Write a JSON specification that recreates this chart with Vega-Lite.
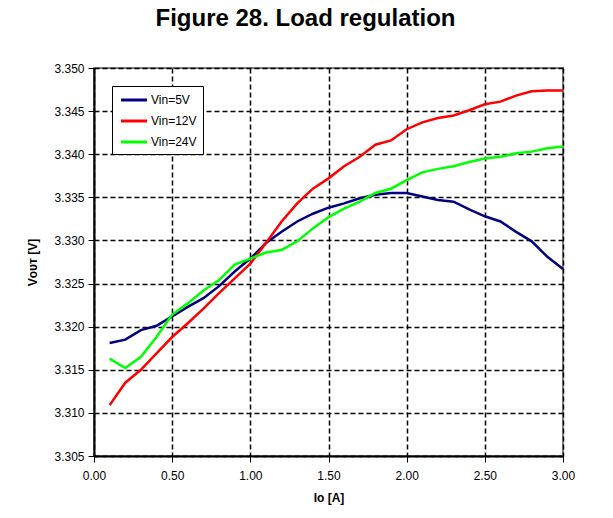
{
  "$schema": "https://vega.github.io/schema/vega-lite/v6.json",
  "width": 469,
  "height": 388,
  "autosize": {"type": "none"},
  "padding": {"left": 94, "top": 68, "right": 50, "bottom": 62},
  "background": "white",
  "title": {"text": "Figure 28. Load regulation", "fontSize": 24, "font": "Liberation Sans", "fontWeight": "bold", "color": "black", "anchor": "middle", "dx": -23, "offset": 31},
  "data": {"values": [
    {"Io":0.1,"Vout":3.3181,"Series":"Vin=5V"},{"Io":0.2,"Vout":3.3185,"Series":"Vin=5V"},{"Io":0.3,"Vout":3.3196,"Series":"Vin=5V"},{"Io":0.4,"Vout":3.3201,"Series":"Vin=5V"},{"Io":0.5,"Vout":3.3212,"Series":"Vin=5V"},{"Io":0.6,"Vout":3.3223,"Series":"Vin=5V"},{"Io":0.7,"Vout":3.3233,"Series":"Vin=5V"},{"Io":0.8,"Vout":3.3247,"Series":"Vin=5V"},{"Io":0.9,"Vout":3.3264,"Series":"Vin=5V"},{"Io":1.0,"Vout":3.3279,"Series":"Vin=5V"},{"Io":1.1,"Vout":3.3297,"Series":"Vin=5V"},{"Io":1.2,"Vout":3.3310,"Series":"Vin=5V"},{"Io":1.3,"Vout":3.3322,"Series":"Vin=5V"},{"Io":1.4,"Vout":3.3331,"Series":"Vin=5V"},{"Io":1.5,"Vout":3.3338,"Series":"Vin=5V"},{"Io":1.6,"Vout":3.3343,"Series":"Vin=5V"},{"Io":1.7,"Vout":3.3349,"Series":"Vin=5V"},{"Io":1.8,"Vout":3.3353,"Series":"Vin=5V"},{"Io":1.9,"Vout":3.3355,"Series":"Vin=5V"},{"Io":2.0,"Vout":3.3355,"Series":"Vin=5V"},{"Io":2.1,"Vout":3.3351,"Series":"Vin=5V"},{"Io":2.2,"Vout":3.3347,"Series":"Vin=5V"},{"Io":2.3,"Vout":3.3345,"Series":"Vin=5V"},{"Io":2.4,"Vout":3.3336,"Series":"Vin=5V"},{"Io":2.5,"Vout":3.3328,"Series":"Vin=5V"},{"Io":2.6,"Vout":3.3322,"Series":"Vin=5V"},{"Io":2.7,"Vout":3.3310,"Series":"Vin=5V"},{"Io":2.8,"Vout":3.3299,"Series":"Vin=5V"},{"Io":2.9,"Vout":3.3281,"Series":"Vin=5V"},{"Io":3.0,"Vout":3.3267,"Series":"Vin=5V"},
    {"Io":0.1,"Vout":3.3109,"Series":"Vin=12V"},{"Io":0.2,"Vout":3.3135,"Series":"Vin=12V"},{"Io":0.3,"Vout":3.3150,"Series":"Vin=12V"},{"Io":0.4,"Vout":3.3169,"Series":"Vin=12V"},{"Io":0.5,"Vout":3.3188,"Series":"Vin=12V"},{"Io":0.6,"Vout":3.3204,"Series":"Vin=12V"},{"Io":0.7,"Vout":3.3221,"Series":"Vin=12V"},{"Io":0.8,"Vout":3.3239,"Series":"Vin=12V"},{"Io":0.9,"Vout":3.3256,"Series":"Vin=12V"},{"Io":1.0,"Vout":3.3273,"Series":"Vin=12V"},{"Io":1.1,"Vout":3.3297,"Series":"Vin=12V"},{"Io":1.2,"Vout":3.3322,"Series":"Vin=12V"},{"Io":1.3,"Vout":3.3343,"Series":"Vin=12V"},{"Io":1.4,"Vout":3.3360,"Series":"Vin=12V"},{"Io":1.5,"Vout":3.3372,"Series":"Vin=12V"},{"Io":1.6,"Vout":3.3386,"Series":"Vin=12V"},{"Io":1.7,"Vout":3.3397,"Series":"Vin=12V"},{"Io":1.8,"Vout":3.3411,"Series":"Vin=12V"},{"Io":1.9,"Vout":3.3416,"Series":"Vin=12V"},{"Io":2.0,"Vout":3.3429,"Series":"Vin=12V"},{"Io":2.1,"Vout":3.3437,"Series":"Vin=12V"},{"Io":2.2,"Vout":3.3442,"Series":"Vin=12V"},{"Io":2.3,"Vout":3.3445,"Series":"Vin=12V"},{"Io":2.4,"Vout":3.3451,"Series":"Vin=12V"},{"Io":2.5,"Vout":3.3458,"Series":"Vin=12V"},{"Io":2.6,"Vout":3.3461,"Series":"Vin=12V"},{"Io":2.7,"Vout":3.3468,"Series":"Vin=12V"},{"Io":2.8,"Vout":3.3473,"Series":"Vin=12V"},{"Io":2.9,"Vout":3.3474,"Series":"Vin=12V"},{"Io":3.0,"Vout":3.3474,"Series":"Vin=12V"},
    {"Io":0.1,"Vout":3.3163,"Series":"Vin=24V"},{"Io":0.2,"Vout":3.3152,"Series":"Vin=24V"},{"Io":0.3,"Vout":3.3165,"Series":"Vin=24V"},{"Io":0.4,"Vout":3.3188,"Series":"Vin=24V"},{"Io":0.5,"Vout":3.3214,"Series":"Vin=24V"},{"Io":0.6,"Vout":3.3227,"Series":"Vin=24V"},{"Io":0.7,"Vout":3.3242,"Series":"Vin=24V"},{"Io":0.8,"Vout":3.3254,"Series":"Vin=24V"},{"Io":0.9,"Vout":3.3272,"Series":"Vin=24V"},{"Io":1.0,"Vout":3.3279,"Series":"Vin=24V"},{"Io":1.1,"Vout":3.3286,"Series":"Vin=24V"},{"Io":1.2,"Vout":3.3289,"Series":"Vin=24V"},{"Io":1.3,"Vout":3.3299,"Series":"Vin=24V"},{"Io":1.4,"Vout":3.3314,"Series":"Vin=24V"},{"Io":1.5,"Vout":3.3327,"Series":"Vin=24V"},{"Io":1.6,"Vout":3.3337,"Series":"Vin=24V"},{"Io":1.7,"Vout":3.3345,"Series":"Vin=24V"},{"Io":1.8,"Vout":3.3355,"Series":"Vin=24V"},{"Io":1.9,"Vout":3.3360,"Series":"Vin=24V"},{"Io":2.0,"Vout":3.3370,"Series":"Vin=24V"},{"Io":2.1,"Vout":3.3379,"Series":"Vin=24V"},{"Io":2.2,"Vout":3.3383,"Series":"Vin=24V"},{"Io":2.3,"Vout":3.3386,"Series":"Vin=24V"},{"Io":2.4,"Vout":3.3391,"Series":"Vin=24V"},{"Io":2.5,"Vout":3.3395,"Series":"Vin=24V"},{"Io":2.6,"Vout":3.3397,"Series":"Vin=24V"},{"Io":2.7,"Vout":3.3401,"Series":"Vin=24V"},{"Io":2.8,"Vout":3.3403,"Series":"Vin=24V"},{"Io":2.9,"Vout":3.3407,"Series":"Vin=24V"},{"Io":3.0,"Vout":3.3409,"Series":"Vin=24V"}
  ]},
  "mark": {"type": "line", "strokeWidth": 2.5},
  "encoding": {
    "x": {"field": "Io", "type": "quantitative",
      "scale": {"domain": [0, 3], "nice": false, "zero": false},
      "axis": {"title": "Io [A]", "values": [0, 0.5, 1, 1.5, 2, 2.5, 3], "format": ".2f", "labelPadding": 8, "titlePadding": 11, "labelFlush": false}},
    "y": {"field": "Vout", "type": "quantitative",
      "scale": {"domain": [3.305, 3.35], "nice": false, "zero": false},
      "axis": {"title": "Vᴏᴜᴛ [V]", "values": [3.305, 3.31, 3.315, 3.32, 3.325, 3.33, 3.335, 3.34, 3.345, 3.35], "format": ".3f", "labelPadding": 4, "titlePadding": 14, "labelFlush": false}},
    "color": {"field": "Series", "type": "nominal",
      "scale": {"domain": ["Vin=5V", "Vin=12V", "Vin=24V"], "range": ["#000080", "#FF0000", "#00FF00"]},
      "legend": {"title": null, "orient": "top-left", "offset": 18, "strokeColor": "black", "fillColor": "white", "padding": 6, "symbolType": "M-2,0H2", "symbolStrokeWidth": 3, "symbolSize": 169, "symbolOffset": 8, "labelFontSize": 12, "labelColor": "black", "rowPadding": 7, "labelOffset": 9}}
  },
  "config": {
    "font": "Liberation Sans",
    "view": {"stroke": "#808080", "strokeWidth": 2},
    "axis": {
      "labelFont": "Liberation Sans", "labelFontSize": 12, "labelColor": "black",
      "titleFont": "Liberation Sans", "titleFontSize": 12, "titleFontWeight": "bold", "titleColor": "black",
      "domainColor": "black", "domainWidth": 2,
      "tickColor": "black", "tickSize": 6, "tickWidth": 1,
      "grid": true, "gridColor": "black", "gridDash": [5, 3], "gridWidth": 1.5, "gridOpacity": 1
    }
  }
}
